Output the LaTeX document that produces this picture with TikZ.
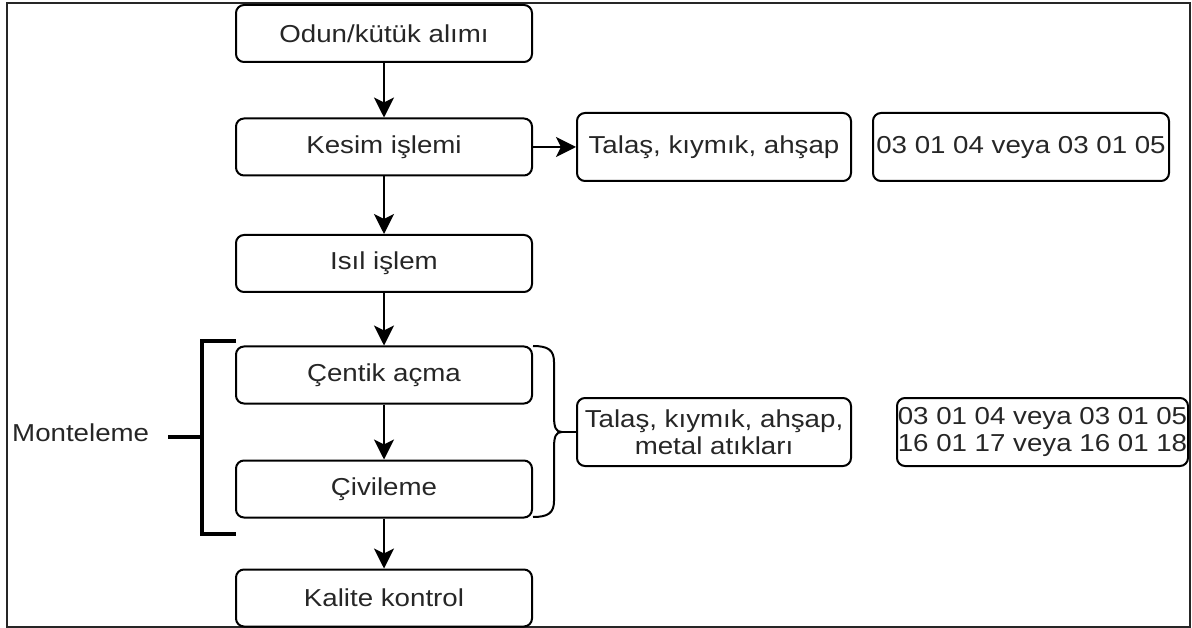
\documentclass[tikz,border=0pt]{standalone}
\usepackage{fontspec}
\setmainfont{Liberation Sans}[FakeStretch=1.13]
\usetikzlibrary{arrows.meta}
\begin{document}
\begin{tikzpicture}[x=1pt,y=-1pt,
  txt/.style={font=\fontsize{24.5}{27}\selectfont, align=center, inner sep=0pt, text=black!85},
  box/.style={txt, draw=black, line width=2pt, rounded corners=8pt, minimum width=296pt, minimum height=57pt},
  sidebox/.style={txt, draw=black, line width=2pt, rounded corners=8pt, minimum height=68pt},
  arr/.style={line width=2pt, -{Stealth[length=20pt,width=20pt,inset=5pt]}},
  brk/.style={line width=3.5pt, line cap=butt, line join=miter},
  brc/.style={line width=2pt, line join=round}]
\useasboundingbox (0,0) rectangle (1192,628);
\draw[line width=2pt, black!85] (7,3) rectangle (1190,627);
% main column
\node[box] (odun)   at (384,33.5) {Odun/kütük alımı};
\node[box] (kesim)  at (384,147)  {Kesim işlemi};
\node[box] (isil)   at (384,263.5){Isıl işlem};
\node[box] (centik) at (384,375)  {Çentik açma};
\node[box] (civi)   at (384,489)  {Çivileme};
\node[box] (kalite) at (384,598)  {Kalite kontrol};
% side boxes
\node[sidebox, minimum width=274pt] (talas1) at (714,147)   {Talaş, kıymık, ahşap};
\node[sidebox, minimum width=296pt] (kod1)   at (1021,147)  {03 01 04 veya 03 01 05};
\node[sidebox, minimum width=274pt] (talas2) at (714,432)   {Talaş, kıymık, ahşap,\\metal atıkları};
\node[sidebox, minimum width=291pt] (kod2)   at (1042.5,432){03 01 04 veya 03 01 05\\16 01 17 veya 16 01 18};
% arrows
\draw[arr] (odun) -- (kesim);
\draw[arr] (kesim) -- (isil);
\draw[arr] (isil) -- (centik);
\draw[arr] (centik) -- (civi);
\draw[arr] (civi) -- (kalite);
\draw[arr] (kesim) -- (talas1);
% Monteleme bracket
\node[txt, anchor=west] (mont) at (12,433) {Monteleme};
\coordinate (tick) at (168,437);
\coordinate (bk) at (202,437);
\draw[brk] (236,341) -| (202,534) -- (236,534);
\draw[brk] (tick) -- (bk);
% curly brace
\coordinate (tip) at (562,432);
\draw[brc] (533,346) .. controls (548,346) and (554,350) .. (554,362) -- (554,416)
   .. controls (554,428) and (556,432) .. (tip);
\draw[brc] (533,517) .. controls (548,517) and (554,513) .. (554,501) -- (554,448)
   .. controls (554,436) and (556,432) .. (tip);
\draw[brc] (tip) -- (talas2.west);
\end{tikzpicture}
\end{document}
